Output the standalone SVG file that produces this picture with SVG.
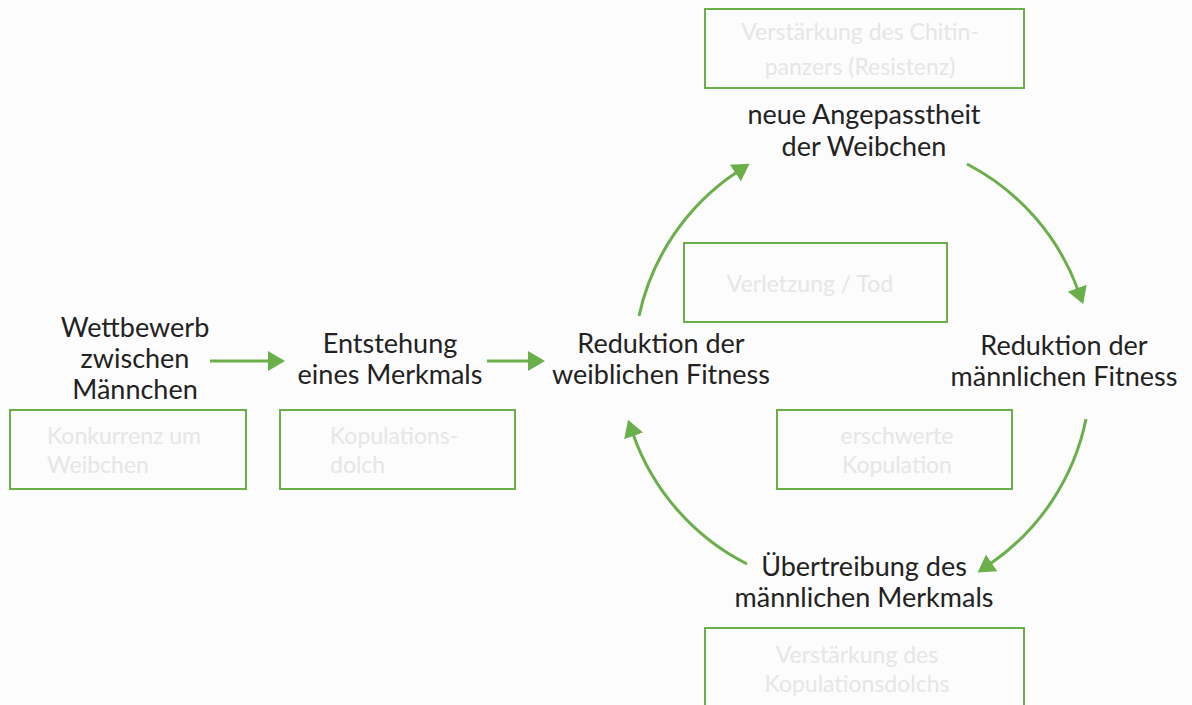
<svg xmlns="http://www.w3.org/2000/svg" width="1192" height="705" viewBox="0 0 1192 705">
<style>
.main{font-family:Lato,"Open Sans",sans-serif;font-size:27px;fill:#222;text-anchor:middle}
.ghost{font-family:Lato,"Open Sans",sans-serif;font-size:23px;fill:#e6e6e6}
.box{fill:none;stroke:#6aaf4a;stroke-width:2}
.arr{fill:none;stroke:#6aaf4a;stroke-width:3}
</style>
<defs>
<marker id="ah" markerUnits="userSpaceOnUse" markerWidth="18" markerHeight="20" refX="2" refY="10" orient="auto">
<path d="M0,0 L17,10 L0,20 z" fill="#6aaf4a"/>
</marker>
</defs>
<rect width="1192" height="705" fill="#fcfcfc"/>
<g id="connectors">
<path class="arr" d="M210,361 L270,361" marker-end="url(#ah)"/>
<path class="arr" d="M487,361 L530,361" marker-end="url(#ah)"/>
<path class="arr" d="M639,316 A232,232 0 0 1 737,172" marker-end="url(#ah)"/>
<path class="arr" d="M967,164 A232,232 0 0 1 1078,290" marker-end="url(#ah)"/>
<path class="arr" d="M1086,419 A232,232 0 0 1 990,564" marker-end="url(#ah)"/>
<path class="arr" d="M747,564 A232,232 0 0 1 633,434" marker-end="url(#ah)"/>
</g>
<g id="n-wettbewerb">
<text class="main" x="135" y="337">Wettbewerb</text>
<text class="main" x="135" y="368">zwischen</text>
<text class="main" x="135" y="399">Männchen</text>
</g>
<g id="b-konkurrenz">
<rect class="box" x="10" y="410" width="236" height="79"/>
<text class="ghost" x="47" y="444">Konkurrenz um</text>
<text class="ghost" x="47" y="473">Weibchen</text>
</g>
<g id="n-entstehung">
<text class="main" x="390" y="353">Entstehung</text>
<text class="main" x="390" y="384">eines Merkmals</text>
</g>
<g id="b-dolch">
<rect class="box" x="280" y="410" width="235" height="79"/>
<text class="ghost" x="330" y="444">Kopulations-</text>
<text class="ghost" x="330" y="473">dolch</text>
</g>
<g id="n-red-w">
<text class="main" x="661" y="353">Reduktion der</text>
<text class="main" x="661" y="384">weiblichen Fitness</text>
</g>
<g id="n-angepasst">
<text class="main" x="864" y="124">neue Angepasstheit</text>
<text class="main" x="864" y="156">der Weibchen</text>
</g>
<g id="b-chitin">
<rect class="box" x="705" y="9" width="319" height="79"/>
<text class="ghost" x="860" y="40" text-anchor="middle">Verstärkung des Chitin-</text>
<text class="ghost" x="860" y="75" text-anchor="middle">panzers (Resistenz)</text>
</g>
<g id="b-verletzung">
<rect class="box" x="684" y="243" width="263" height="79"/>
<text class="ghost" x="810" y="292" text-anchor="middle">Verletzung / Tod</text>
</g>
<g id="n-red-m">
<text class="main" x="1064" y="355">Reduktion der</text>
<text class="main" x="1064" y="386">männlichen Fitness</text>
</g>
<g id="b-erschwert">
<rect class="box" x="777" y="410" width="235" height="79"/>
<text class="ghost" x="897" y="444" text-anchor="middle">erschwerte</text>
<text class="ghost" x="897" y="473" text-anchor="middle">Kopulation</text>
</g>
<g id="n-uebertreibung">
<text class="main" x="864" y="576">Übertreibung des</text>
<text class="main" x="864" y="607">männlichen Merkmals</text>
</g>
<g id="b-verstaerkung">
<rect class="box" x="705" y="628" width="319" height="80"/>
<text class="ghost" x="857" y="663" text-anchor="middle">Verstärkung des</text>
<text class="ghost" x="857" y="692" text-anchor="middle">Kopulationsdolchs</text>
</g>
</svg>
